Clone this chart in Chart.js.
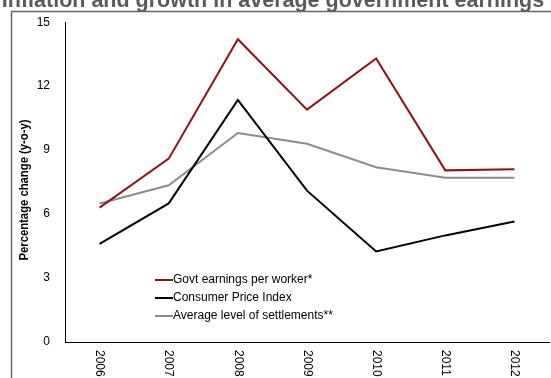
<!DOCTYPE html>
<html>
<head>
<meta charset="utf-8">
<script src="https://cdn.jsdelivr.net/npm/chart.js@4.4.1/dist/chart.umd.min.js"></script>
<style>
  html, body { margin: 0; padding: 0; background: #fff; }
  #wrap { width: 551px; height: 378px; }
</style>
</head>
<body>
<div id="wrap"><canvas id="earnings"></canvas></div>
<script>
const years = ['2006', '2007', '2008', '2009', '2010', '2011', '2012'];
const govtEarnings = [6.3, 8.6, 14.2, 10.9, 13.3, 8.05, 8.1];
const cpi = [4.6, 6.5, 11.35, 7.1, 4.25, 5.0, 5.65];
const settlements = [6.5, 7.35, 9.8, 9.3, 8.2, 7.7, 7.7];
const yTicks = [0, 3, 6, 9, 12, 15];

const titleText = 'Inflation and growth in average government earnings';
const yTitle = 'Percentage change (y-o-y)';

// frame, clipped heading, condensed axis title, rotated year labels and the legend
const decorations = {
    id: 'decorations',
    beforeDraw(chart) {
        const ctx = chart.ctx;
        ctx.save();
        ctx.fillStyle = '#5a5a5a';
        ctx.font = 'bold 21.5px Arial, "Liberation Sans", sans-serif';
        ctx.textAlign = 'center';
        ctx.textBaseline = 'alphabetic';
        ctx.fillText(titleText, 273, 7);
        ctx.strokeStyle = '#666';
        ctx.lineWidth = 1.5;
        ctx.beginPath();
        ctx.moveTo(11.5, 378);
        ctx.lineTo(11.5, 11.5);
        ctx.lineTo(551, 11.5);
        ctx.stroke();
        ctx.restore();
    },
    afterDraw(chart) {
        const ctx = chart.ctx;
        const x = chart.scales.x;
        ctx.save();

        // narrow-looking axis title: squeeze a bold face to fit
        ctx.save();
        ctx.fillStyle = '#000';
        ctx.font = 'bold 13px Arial, "Liberation Sans", sans-serif';
        ctx.textAlign = 'center';
        ctx.textBaseline = 'middle';
        const w = ctx.measureText(yTitle).width;
        ctx.translate(24, 190);
        ctx.rotate(-Math.PI / 2);
        ctx.scale(141 / w, 1);
        ctx.fillText(yTitle, 0, 0);
        ctx.restore();

        ctx.fillStyle = '#000';
        ctx.font = '12px Arial, "Liberation Sans", sans-serif';
        ctx.textAlign = 'left';
        ctx.textBaseline = 'middle';
        years.forEach((yr, i) => {
            ctx.save();
            ctx.translate(x.getPixelForValue(i), 350);
            ctx.rotate(Math.PI / 2);
            ctx.fillText(yr, 0, 0);
            ctx.restore();
        });

        // legend
        let ly = 280;
        chart.data.datasets.forEach(ds => {
            ctx.strokeStyle = ds.borderColor;
            ctx.lineWidth = 2;
            ctx.beginPath();
            ctx.moveTo(155, ly);
            ctx.lineTo(173, ly);
            ctx.stroke();
            ctx.fillStyle = '#000';
            ctx.fillText(ds.label, 173, ly);
            ly += 18;
        });
        ctx.restore();
    }
};

new Chart(document.getElementById('earnings'), {
    type: 'line',
    data: {
        labels: years,
        datasets: [
            { label: 'Govt earnings per worker*', data: govtEarnings, borderColor: '#8b1519' },
            { label: 'Consumer Price Index', data: cpi, borderColor: '#000000' },
            { label: 'Average level of settlements**', data: settlements, borderColor: '#8c8c8c' }
        ]
    },
    options: {
        responsive: true,
        maintainAspectRatio: false,
        animation: false,
        layout: { padding: { top: 22, right: 2, left: 0, bottom: 0 } },
        elements: {
            line: { borderWidth: 2, tension: 0 },
            point: { radius: 0, hoverRadius: 0 }
        },
        plugins: {
            legend: { display: false },
            tooltip: { enabled: false }
        },
        scales: {
            x: {
                offset: true,
                grid: { display: false, drawTicks: false },
                border: { display: true, color: '#000', width: 1 },
                ticks: { display: false },
                afterFit(s) { s.height = 36; }
            },
            y: {
                min: 0,
                max: 15,
                afterBuildTicks(s) { s.ticks = yTicks.map(v => ({ value: v })); },
                grid: { display: false, drawTicks: false },
                border: { display: true, color: '#000', width: 1 },
                ticks: {
                    padding: 15,
                    color: '#000',
                    font: { family: 'Arial, "Liberation Sans", sans-serif', size: 12 }
                },
                afterFit(s) { s.width = 65; }
            }
        }
    },
    plugins: [decorations]
});
</script>
</body>
</html>
